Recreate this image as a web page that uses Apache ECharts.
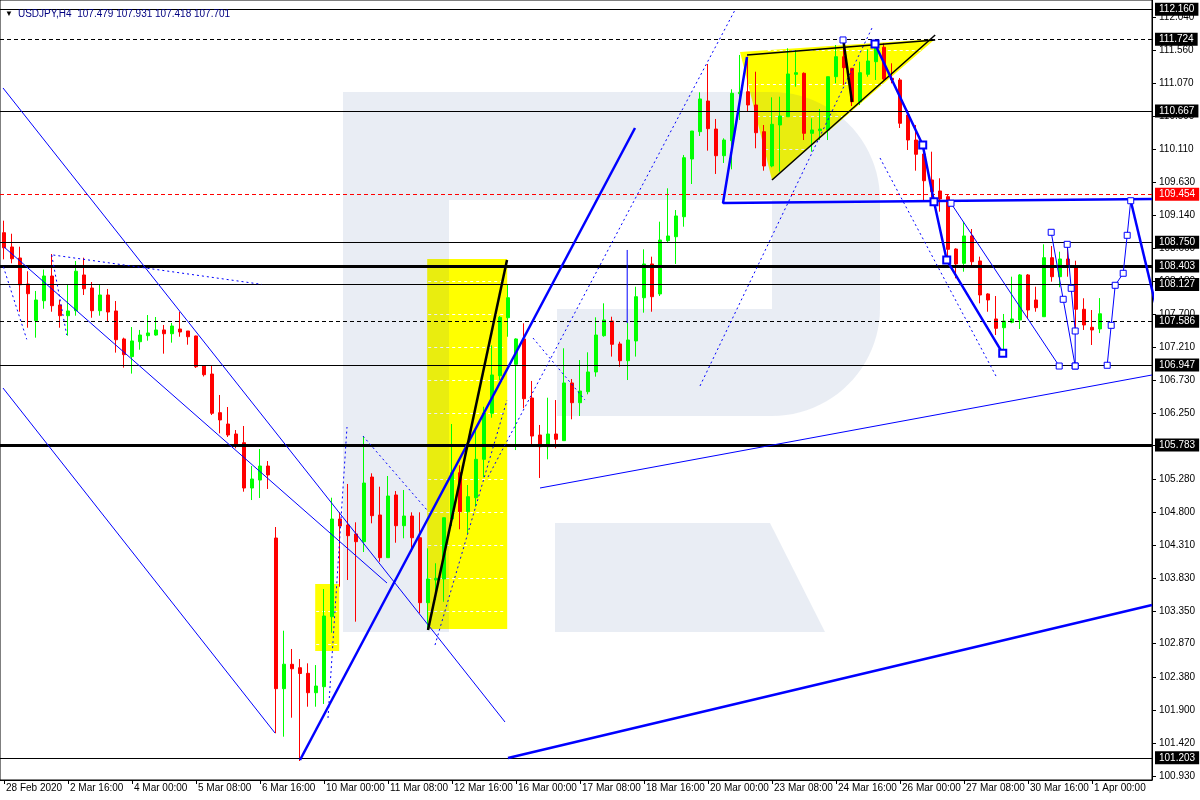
<!DOCTYPE html>
<html><head><meta charset="utf-8">
<script src="https://cdn.jsdelivr.net/npm/echarts@6.0.0/dist/echarts.min.js"></script>
<style>html,body{margin:0;padding:0;background:#fff}#c{width:1200px;height:800px}</style>
</head><body><div id="c"></div>
<script>
const symbolName = 'USDJPY,H4';
const tickLabels = ['28 Feb 2020','2 Mar 16:00','4 Mar 00:00','5 Mar 08:00','6 Mar 16:00','10 Mar 00:00','11 Mar 08:00','12 Mar 16:00','16 Mar 00:00','17 Mar 08:00','18 Mar 16:00','20 Mar 00:00','23 Mar 08:00','24 Mar 16:00','26 Mar 00:00','27 Mar 08:00','30 Mar 16:00','1 Apr 00:00'];
const barsPerTick = 8;
const slotCount = 144;
const yTicks = [112.040,111.560,111.070,110.590,110.110,109.630,109.140,108.660,108.180,107.700,107.210,106.730,106.250,105.770,105.280,104.800,104.310,103.830,103.350,102.870,102.380,101.900,101.420,100.930];
const yMin = 100.875, yMax = 112.295;

const opens = [108.888,108.679,108.518,108.137,107.600,107.892,108.254,107.829,107.673,107.746,
108.269,108.078,107.746,107.976,107.742,107.332,107.074,107.292,107.380,107.390,
107.464,107.409,107.478,107.449,107.376,106.941,106.819,106.253,106.087,105.941,
105.813,105.150,105.267,105.472,104.418,102.212,102.569,102.519,102.437,102.153,
102.241,103.266,104.696,104.608,104.477,104.364,105.311,104.755,104.130,105.048,
104.598,104.740,104.422,103.471,103.803,103.818,104.696,105.374,104.803,105.008,
105.570,106.244,106.794,107.643,106.961,107.332,106.468,105.926,105.755,105.941,
105.843,106.688,106.399,106.560,106.849,107.380,107.595,107.259,107.014,107.303,
107.936,108.430,107.991,108.771,108.829,109.122,109.967,110.367,110.816,110.406,
110.015,110.235,110.923,110.952,110.758,110.367,109.865,110.465,110.586,111.207,
111.222,110.343,110.381,110.392,111.172,111.465,111.295,110.806,111.207,111.392,
111.603,111.149,111.124,110.611,110.245,110.040,109.660,109.499,109.415,108.649,
108.440,108.840,108.474,107.991,107.625,107.497,107.576,107.610,108.269,107.903,
107.658,108.522,108.244,108.503,108.405,107.767,107.503,107.479];
const highs = [109.064,108.873,108.683,108.324,108.035,108.349,108.576,107.903,108.137,108.474,
108.522,108.166,108.137,108.064,107.888,107.351,107.507,107.464,107.683,107.654,
107.537,107.566,107.731,107.449,107.380,106.951,106.936,106.512,106.336,105.999,
106.058,105.472,105.721,105.545,104.579,103.061,102.793,102.646,102.583,102.558,
103.671,105.008,104.794,105.209,104.648,105.911,105.365,105.169,105.326,105.106,
105.121,104.794,104.794,104.267,104.048,104.707,106.087,105.483,105.194,105.999,
106.340,107.239,107.668,108.122,107.342,107.562,106.717,106.073,106.472,106.438,
107.196,106.746,107.024,107.137,107.649,107.854,107.658,107.292,107.576,108.097,
108.645,108.537,109.049,109.538,109.220,110.026,110.377,110.944,111.358,110.553,
110.270,110.988,111.490,111.465,111.245,110.465,110.870,110.879,111.588,111.563,
111.235,110.563,110.699,111.172,111.636,111.636,111.300,111.392,111.573,111.670,
111.661,111.368,111.153,110.685,110.465,110.201,110.074,109.685,109.450,108.660,
109.049,108.942,108.537,108.001,107.961,107.698,108.244,108.283,108.283,108.097,
108.718,108.693,108.610,108.756,108.478,107.928,107.756,107.931];
const lows = [108.498,108.440,107.731,107.497,107.351,107.775,107.731,107.497,107.380,107.673,
107.976,107.643,107.673,107.581,107.132,106.913,106.825,107.175,107.307,107.380,
107.117,107.278,107.365,107.248,106.907,106.783,106.219,105.951,105.897,105.731,
105.096,104.974,105.004,105.136,101.559,101.509,101.787,101.153,101.948,101.948,
101.988,103.031,103.705,103.803,103.193,104.213,104.633,104.071,104.130,104.349,
104.414,104.218,103.315,103.071,103.510,103.485,104.594,104.546,104.487,104.876,
105.307,106.179,106.731,107.365,105.706,106.317,105.780,105.297,105.570,105.731,
105.843,106.156,106.204,106.522,106.780,107.365,107.074,106.926,106.731,107.074,
107.717,107.731,107.961,108.742,108.430,108.976,109.601,110.304,110.089,109.748,
109.909,109.816,110.538,110.660,110.124,109.796,109.846,109.781,110.586,111.026,
110.245,110.074,110.245,110.245,111.075,111.051,110.743,110.758,111.172,111.124,
111.124,111.075,110.421,110.099,109.796,109.352,109.342,109.196,108.513,108.220,
108.317,108.390,107.854,107.731,107.390,107.122,107.562,107.478,107.635,107.731,
107.658,108.171,108.089,108.244,107.439,107.464,107.244,107.418];
const closes = [108.667,108.507,108.126,107.995,107.903,108.254,107.819,107.673,107.742,108.324,
108.068,107.746,107.976,107.727,107.321,107.103,107.303,107.390,107.420,107.464,
107.409,107.522,107.434,107.365,106.926,106.809,106.244,106.146,105.926,105.780,
105.150,105.282,105.472,105.341,102.212,102.570,102.504,102.434,102.153,102.251,
103.276,104.696,104.594,104.452,104.364,105.223,104.745,104.130,105.033,104.598,
104.740,104.422,103.471,103.818,103.828,104.715,105.374,104.803,105.023,105.570,
106.248,106.805,107.649,107.936,107.332,106.458,105.911,105.755,105.941,105.863,
106.688,106.399,106.570,106.849,107.390,107.610,107.254,107.014,107.317,107.951,
108.430,107.951,108.781,108.840,109.133,109.986,110.377,110.846,110.411,110.015,
110.245,110.929,110.944,110.758,110.352,109.865,110.475,110.597,111.212,111.231,
110.343,110.392,110.406,111.172,111.465,111.304,110.806,111.231,111.402,111.661,
111.138,111.124,110.490,110.245,110.036,109.649,109.488,109.381,108.645,108.430,
108.840,108.463,107.976,107.903,107.488,107.595,107.625,108.269,107.756,107.790,
108.522,108.244,108.503,108.390,107.767,107.537,107.464,107.701];

// horizontal price levels
const levelPrices = [112.160,111.724,110.667,109.454,108.750,108.403,108.127,107.701,107.586,106.947,105.783,101.203];
const levelKinds  = ['thin','dash','thin','red','thin','thick','thin','none','dash','thin','thick','thin'];

// drawn objects in [bar index, price]
const yellowRect1 = [[52.9,108.503],[62.9,108.503],[62.9,103.086],[52.9,103.086]];
const yellowRect2 = [[38.9,103.744],[41.9,103.744],[41.9,102.763],[38.9,102.763]];
const yellowTriangle = [[92.0,111.534],[116.4,111.724],[96.0,109.660]];

const thinBlue = [
  [[-0.125,111.007],[62.625,101.724]],
  [[-0.125,106.614],[33.875,101.563]],
  [[0,108.679],[47.875,103.759]],
  [[67,105.150],[143.5,106.805]],
  [[77.9,108.635],[77.9,107.566]]
];
const thickBlue = [
  [[37,101.168],[78.875,110.421]],
  [[63,101.197],[143.5,103.437]],
  [[92.875,111.460],[89.875,109.323],[143.5,109.381]],
  [[140.84,109.356],[144.5,107.566]]
];
const dottedBlue = [
  [[-0.08,108.390],[2.84,107.327]],
  [[5.96,108.561],[7.84,107.390]],
  [[6.17,108.561],[32.21,108.132]],
  [[40.5,101.783],[42.875,106.043]],
  [[44.875,105.911],[52.875,104.828]],
  [[53.875,102.851],[62.875,106.438]],
  [[66.125,107.346],[72.625,106.438]],
  [[60.5,105.311],[91.375,112.149]],
  [[87,106.644],[108.5,111.885]],
  [[109.5,109.982],[124.125,106.761]]
];
const blackLines = [
  [[53,103.071],[62.875,108.488]],
  [[92.875,111.490],[116.4,111.709]],
  [[96,109.660],[116.4,111.783]],
  [[104.875,111.739],[106.0,110.801]]
];
const forecastMark = [[104.875,111.710]];
const forecastThick = [[108.875,111.651],[114.84,110.172],[116.25,109.342],[117.84,108.488],[124.84,107.122]];
const forecastThin = [
  [[118.375,109.319],[131.9,106.936]],
  [[130.9,108.894],[132.4,107.913],[133.9,106.936]],
  [[132.9,108.718],[133.4,108.074],[133.9,107.449],[133.9,106.936]],
  [[137.9,106.947],[138.4,107.532],[138.9,108.118],[139.9,108.294],[140.4,108.850],[140.84,109.356]]
];

const FONT = 'Liberation Sans';
const BLUE = '#0000FF';
const categories = Array.from({length: slotCount}, (_, i) => String(i));
const lastIdx = opens.length - 1;

function lineSeries(pts, color, width, type, z, sym) {
  return {
    type: 'line', xAxisIndex: 1, yAxisIndex: 0, data: pts, z: z,
    showSymbol: !!sym, symbol: sym ? 'rect' : 'none', symbolSize: sym || 0,
    itemStyle: {color: '#fff', borderColor: color, borderWidth: width > 1.5 ? 2 : 1},
    lineStyle: {color: color, width: width, type: type},
    silent: true, animation: false, clip: true
  };
}

const levelStyle = {
  thin: {color:'#000', width:1, type:'solid', bg:'#000'},
  dash: {color:'#000', width:1, type:[4,3], bg:'#000'},
  red: {color:'#FF0000', width:1, type:[4,3], bg:'#FF0000'},
  thick: {color:'#000', width:3, type:'solid', bg:'#000'},
  none: {color:'#000', width:0, type:'solid', bg:'#000'}
};

const series = [];
const yellowShapes = [yellowRect1, yellowRect2, yellowTriangle];
series.push({
  type: 'custom', xAxisIndex: 1, yAxisIndex: 0, z: 1, silent: true, animation: false,
  data: yellowShapes.map((s, i) => [s[0][0], s[0][1], i]),
  renderItem: function (params, api) {
    const pts = yellowShapes[params.dataIndex].map(p => api.coord(p));
    const children = [{type: 'polygon', shape: {points: pts}, style: {fill: '#FFFF00'}}];
    // chart grid (white dashed) shows only over filled objects
    yTicks.forEach(t => {
      const y = api.coord([0, t])[1];
      const xs = [];
      for (let k = 0; k < pts.length; k++) {
        const a = pts[k], b = pts[(k + 1) % pts.length];
        if ((y - a[1]) * (y - b[1]) < 0) xs.push(a[0] + (y - a[1]) * (b[0] - a[0]) / (b[1] - a[1]));
      }
      if (xs.length >= 2) {
        const x0 = Math.min.apply(null, xs) + 1, x1 = Math.max.apply(null, xs) - 1;
        if (x1 > x0) children.push({type: 'line', shape: {x1: x0, y1: Math.round(y) + 0.5, x2: x1, y2: Math.round(y) + 0.5},
          style: {stroke: '#fff', lineWidth: 1, lineDash: [3, 3]}});
      }
    });
    return {type: 'group', children: children};
  }
});
series.push({
  type: 'line', xAxisIndex: 1, yAxisIndex: 0, data: [], z: 3, silent: true, animation: false,
  markLine: {
    symbol: 'none', silent: true, animation: false,
    data: levelPrices.map((p, i) => {
      const st = levelStyle[levelKinds[i]];
      return {
        yAxis: p,
        lineStyle: {color: st.color, width: st.width, type: st.type, opacity: st.width ? 1 : 0},
        label: {show: true, position: 'end', distance: 3, formatter: p.toFixed(3), color: '#fff',
          backgroundColor: st.bg, padding: [2, 4, 1, 4], fontSize: 10, fontFamily: FONT}
      };
    })
  }
});
series.push({
  type: 'candlestick', xAxisIndex: 0, yAxisIndex: 0, z: 4, barWidth: 4, animation: false,
  data: opens.map((o, i) => [o, closes[i], lows[i], highs[i]]),
  itemStyle: {color: '#00FF00', color0: '#FF0000', borderColor: '#00FF00', borderColor0: '#FF0000', borderWidth: 1}
});
thinBlue.forEach(l => series.push(lineSeries(l, BLUE, 1, 'solid', 5)));
thickBlue.forEach(l => series.push(lineSeries(l, BLUE, 2.5, 'solid', 5)));
dottedBlue.forEach(l => series.push(lineSeries(l, BLUE, 1, [2, 3], 5)));
blackLines.forEach((l, i) => series.push(lineSeries(l, '#000', (i === 0 || i === 3) ? 2.5 : 1.5, 'solid', 5)));
series.push(lineSeries(forecastThick, BLUE, 2.5, 'solid', 6, 7));
series.push(lineSeries(forecastMark, BLUE, 1, 'solid', 6, 6));
forecastThin.forEach(l => series.push(lineSeries(l, BLUE, 1, 'solid', 6, 6)));

// background watermark (decoration, pixel space)
function arcPts(cx, cy, r, a0, a1, n) {
  const out = [];
  for (let k = 0; k <= n; k++) { const a = a0 + (a1 - a0) * k / n; out.push([cx + r * Math.cos(a), cy + r * Math.sin(a)]); }
  return out;
}
const logoPts = [[343,92],[772,92]]
  .concat(arcPts(772, 200, 108, -Math.PI / 2, 0, 24))
  .concat(arcPts(772, 308, 108, 0, Math.PI / 2, 24))
  .concat([[557,416],[557,309],[772,309],[772,200],[449,200],[449,632],[343,632]]);
const wm = 'rgba(35,75,150,0.1)';

const option = {
  animation: false,
  backgroundColor: '#fff',
  title: {
    text: '{a|▼} {b|' + symbolName + '  ' + [opens[lastIdx], highs[lastIdx], lows[lastIdx], closes[lastIdx]].map(v => v.toFixed(3)).join(' ') + '}',
    left: 5, top: 5, padding: 0,
    textStyle: {fontWeight: 'normal', rich: {a: {fontSize: 8, color: '#000', fontWeight: 'normal'}, b: {fontSize: 10, color: '#000080', fontFamily: FONT, fontWeight: 'normal'}}}
  },
  graphic: [
    {type: 'polygon', z: 2, silent: true, shape: {points: logoPts}, style: {fill: wm}},
    {type: 'polygon', z: 2, silent: true, shape: {points: [[555,523],[770,523],[825,632],[555,632]]}, style: {fill: wm}}
  ],
  grid: {left: 0, top: 0, right: 48, bottom: 20, show: true, borderColor: '#000', borderWidth: 1, backgroundColor: 'transparent'},
  xAxis: [
    {type: 'category', data: categories, boundaryGap: true,
     axisLine: {show: true, onZero: false, lineStyle: {color: '#000'}},
     axisTick: {show: true, alignWithLabel: true, length: 4, lineStyle: {color: '#000'},
       interval: (i) => i % barsPerTick === 0 && i / barsPerTick < tickLabels.length},
     axisLabel: {show: true, color: '#000', fontSize: 10, fontFamily: FONT, align: 'left', margin: 3, padding: [0,0,0,2],
       interval: (i) => i % barsPerTick === 0 && i / barsPerTick < tickLabels.length,
       formatter: (v, i) => tickLabels[i / barsPerTick] || ''},
     splitLine: {show: false}},
    {type: 'value', min: -0.5, max: slotCount - 0.5, show: false, axisLine: {onZero: false}}
  ],
  yAxis: [{
    type: 'value', position: 'right', min: yMin, max: yMax,
    splitLine: {show: false},
    axisLine: {show: true, onZero: false, lineStyle: {color: '#000'}},
    axisTick: {show: true, customValues: yTicks, length: 4, lineStyle: {color: '#000'}},
    axisLabel: {customValues: yTicks, formatter: v => v.toFixed(3), color: '#000', fontSize: 10, fontFamily: FONT, margin: 7}
  }],
  series: series
};
const chart = echarts.init(document.getElementById('c'), null, {renderer: 'canvas'});
chart.setOption(option);
</script></body></html>
